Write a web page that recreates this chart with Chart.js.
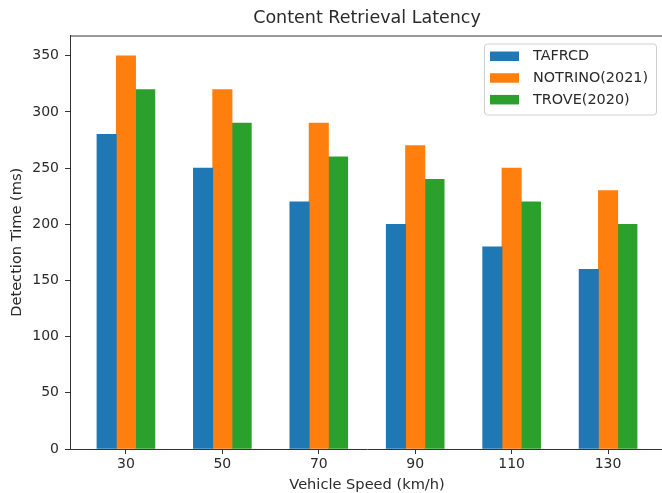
<!DOCTYPE html>
<html>
<head>
<meta charset="utf-8">
<title>Content Retrieval Latency</title>
<script src="https://cdn.jsdelivr.net/npm/chart.js@4/dist/chart.umd.min.js"></script>
<style>
  html, body { margin: 0; padding: 0; background: #fff; overflow: hidden; }
  #wrap { width: 662px; height: 493px; overflow: hidden; }
  canvas { display: block; }
</style>
</head>
<body>
<div id="wrap"><canvas id="chart" width="668" height="493"></canvas></div>
<script>
// kecepatan kendaraan (km/h) dan waktu deteksi (ms)
const speeds = ["30", "50", "70", "90", "110", "130"];
const tafrcd = [280, 250, 220, 200, 180, 160];
const notrino = [350, 320, 290, 270, 250, 230];
const trove = [320, 290, 260, 240, 220, 200];
const seriesNames = ["TAFRCD", "NOTRINO(2021)", "TROVE(2020)"];
const seriesColors = ["#1f77b4", "#ff7f0e", "#2ca02c"];
const yTicks = [0, 50, 100, 150, 200, 250, 300, 350];

const barWidth = 0.2;
const FONT = "'DejaVu Sans', sans-serif";
const TEXT = "#2a2a2a";
const SPINE = "#333";

// posisi batang: grup per kecepatan, digeser selebar satu batang
function toPoints(values, shift) {
  return values.map((v, i) => ({ x: i + shift * barWidth, y: v }));
}

const allSeries = [tafrcd, notrino, trove];
const datasets = allSeries.map((vals, k) => ({
  label: seriesNames[k],
  data: toPoints(vals, k - 1),
  backgroundColor: seriesColors[k],
  borderWidth: 0,
  grouped: false,
  barThickness: 19.4
}));

// garis atas bingkai + legenda kotak ala matplotlib
const frameAndLegend = {
  id: "frameAndLegend",
  afterDraw(chart) {
    const ctx = chart.ctx;
    const area = chart.chartArea;
    ctx.save();
    ctx.strokeStyle = SPINE;
    ctx.lineWidth = 1;
    ctx.beginPath();
    ctx.moveTo(area.left, area.top + 0.5);
    ctx.lineTo(area.right, area.top + 0.5);
    ctx.stroke();

    const w = 172, h = 71;
    const x = area.right - 8 - w;
    const y = area.top + 8;
    ctx.beginPath();
    ctx.roundRect(x + 0.5, y + 0.5, w, h, 3);
    ctx.fillStyle = "rgba(255,255,255,0.8)";
    ctx.fill();
    ctx.strokeStyle = "#d0d0d0";
    ctx.stroke();

    ctx.font = "14.4px " + FONT;
    ctx.textBaseline = "middle";
    ctx.textAlign = "left";
    chart.data.datasets.forEach((ds, i) => {
      const rowY = y + 12.5 + i * 21.7;
      ctx.fillStyle = ds.backgroundColor;
      ctx.fillRect(x + 6, rowY - 4.5, 29, 9.5);
      ctx.fillStyle = TEXT;
      ctx.fillText(ds.label, x + 49, rowY + 0.5);
    });
    ctx.restore();
  }
};

new Chart(document.getElementById("chart"), {
  type: "bar",
  data: { datasets },
  options: {
    responsive: false,
    animation: false,
    layout: { padding: { left: 0, right: 4, top: 0, bottom: 0 } },
    plugins: {
      legend: { display: false },
      tooltip: { enabled: false },
      title: {
        display: true,
        text: "Content Retrieval Latency",
        fullSize: false,
        color: TEXT,
        font: { family: FONT, size: 17.5, weight: "normal", lineHeight: 1.15 },
        padding: { top: 8, bottom: 7.4 }
      }
    },
    scales: {
      x: {
        type: "linear",
        offset: false,
        min: -0.58,
        max: 5.58,
        afterBuildTicks: (scale) => { scale.ticks = speeds.map((_, i) => ({ value: i })); },
        afterFit: (scale) => { scale.height = 44; },
        ticks: {
          callback: (v) => speeds[v],
          color: TEXT,
          font: { family: FONT, size: 14 },
          padding: 2,
          maxRotation: 0
        },
        grid: { offset: false, drawOnChartArea: false, drawTicks: true, tickLength: 5, color: SPINE },
        border: { display: true, color: SPINE, width: 1 },
        title: {
          display: true,
          text: "Vehicle Speed (km/h)",
          color: TEXT,
          font: { family: FONT, size: 14.6 },
          padding: { top: 0, bottom: -1 }
        }
      },
      y: {
        min: 0,
        max: 368,
        afterBuildTicks: (scale) => { scale.ticks = yTicks.map((v) => ({ value: v })); },
        afterFit: (scale) => { scale.width = 70; },
        ticks: {
          color: TEXT,
          font: { family: FONT, size: 14 },
          padding: 6
        },
        grid: { drawOnChartArea: false, drawTicks: true, tickLength: 5, color: SPINE },
        border: { display: true, color: SPINE, width: 1 },
        title: {
          display: true,
          text: "Detection Time (ms)",
          color: TEXT,
          font: { family: FONT, size: 14.6 },
          padding: { top: 8, bottom: 0 }
        }
      }
    }
  },
  plugins: [frameAndLegend]
});
</script>
</body>
</html>
